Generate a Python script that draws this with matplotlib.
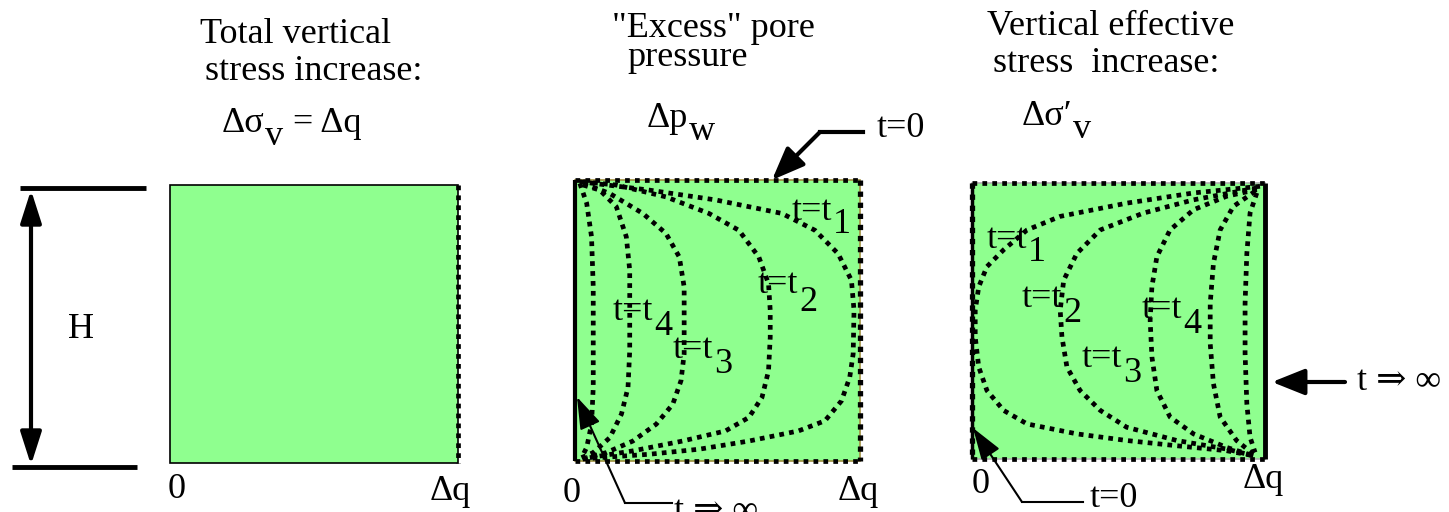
import matplotlib
matplotlib.use("Agg")
import matplotlib.pyplot as plt
from matplotlib.patches import Rectangle

plt.rcParams['font.family'] = ['Liberation Serif', 'DejaVu Serif']

W, H = 1449, 512
GREEN = '#8fff8f'
FS = 26
DOT = (0, (1, 1.1))

# isochrones: x is fraction of dq, z is fraction of depth H
# excess pore pressure panel
PW_T1_X = [0.017, 0.261, 0.494, 0.726, 0.842, 0.923, 0.970, 0.979, 0.976, 0.964,
           0.935, 0.877, 0.784, 0.610, 0.436, 0.261, 0.087, 0.017]
PW_T1_Z = [0.006, 0.036, 0.071, 0.119, 0.179, 0.262, 0.357, 0.464, 0.619, 0.702,
           0.786, 0.857, 0.893, 0.929, 0.958, 0.976, 0.988, 0.994]
PW_T2_X = [0.029, 0.145, 0.319, 0.470, 0.575, 0.645, 0.679, 0.685, 0.685, 0.679,
           0.656, 0.610, 0.528, 0.377, 0.203, 0.052]
PW_T2_Z = [0.006, 0.018, 0.060, 0.119, 0.179, 0.274, 0.369, 0.464, 0.560, 0.679,
           0.774, 0.845, 0.893, 0.929, 0.964, 0.988]
PW_T3_X = [0.029, 0.122, 0.238, 0.319, 0.366, 0.383, 0.383, 0.383, 0.372, 0.343,
           0.285, 0.203, 0.110, 0.041]
PW_T3_Z = [0.012, 0.048, 0.119, 0.190, 0.274, 0.381, 0.500, 0.619, 0.714, 0.798,
           0.869, 0.929, 0.970, 0.988]
PW_T4_X = [0.029, 0.087, 0.145, 0.180, 0.192, 0.192, 0.192, 0.186, 0.163, 0.122,
           0.064, 0.023]
PW_T4_Z = [0.018, 0.036, 0.095, 0.202, 0.321, 0.464, 0.607, 0.738, 0.833, 0.917,
           0.970, 0.988]
PW_T5_X = [0.017, 0.041, 0.058, 0.064, 0.064, 0.064, 0.058, 0.041, 0.023]
PW_T5_Z = [0.012, 0.083, 0.202, 0.381, 0.560, 0.738, 0.869, 0.952, 0.988]

# vertical effective stress panel
SE_T1_X = [0.983, 0.756, 0.528, 0.301, 0.188, 0.108, 0.051, 0.023, 0.011, 0.011,
           0.023, 0.051, 0.108, 0.188, 0.358, 0.528, 0.699, 0.869, 0.960]
SE_T1_Z = [0.012, 0.036, 0.073, 0.121, 0.170, 0.242, 0.303, 0.376, 0.461, 0.558,
           0.667, 0.752, 0.824, 0.873, 0.909, 0.933, 0.952, 0.970, 0.988]
SE_T2_X = [0.972, 0.756, 0.585, 0.438, 0.358, 0.313, 0.301, 0.307, 0.324, 0.369,
           0.438, 0.528, 0.699, 0.869, 0.960]
SE_T2_Z = [0.018, 0.061, 0.109, 0.170, 0.255, 0.352, 0.461, 0.558, 0.667, 0.752,
           0.824, 0.885, 0.933, 0.964, 0.988]
SE_T3_X = [0.972, 0.869, 0.756, 0.676, 0.631, 0.614, 0.608, 0.614, 0.631, 0.676,
           0.756, 0.869, 0.960]
SE_T3_Z = [0.024, 0.048, 0.097, 0.170, 0.267, 0.376, 0.497, 0.630, 0.752, 0.848,
           0.909, 0.958, 0.988]
SE_T4_X = [0.966, 0.892, 0.847, 0.824, 0.813, 0.813, 0.824, 0.847, 0.903, 0.960]
SE_T4_Z = [0.030, 0.085, 0.170, 0.291, 0.436, 0.582, 0.727, 0.848, 0.933, 0.982]
SE_T5_X = [0.972, 0.949, 0.938, 0.932, 0.932, 0.938, 0.949, 0.966]
SE_T5_Z = [0.036, 0.109, 0.255, 0.436, 0.618, 0.800, 0.921, 0.976]

PW_CURVES = [(PW_T1_X, PW_T1_Z), (PW_T2_X, PW_T2_Z), (PW_T3_X, PW_T3_Z),
             (PW_T4_X, PW_T4_Z), (PW_T5_X, PW_T5_Z)]
SE_CURVES = [(SE_T1_X, SE_T1_Z), (SE_T2_X, SE_T2_Z), (SE_T3_X, SE_T3_Z),
             (SE_T4_X, SE_T4_Z), (SE_T5_X, SE_T5_Z)]

fig = plt.figure(figsize=(W / 100, H / 100), dpi=100)
fig.patch.set_facecolor('white')

# full-figure axes in pixel units for the text and arrows
ax = fig.add_axes([0, 0, 1, 1], zorder=3)
ax.set_xlim(0, W)
ax.set_ylim(H, 0)
ax.axis('off')
ax.patch.set_visible(False)


def box_axes(x0, x1, y0, y1, edge):
  bx = fig.add_axes([x0 / W, 1 - y1 / H, (x1 - x0) / W, (y1 - y0) / H], zorder=1)
  bx.set_xlim(0, 1)
  bx.set_ylim(1, 0)
  bx.axis('off')
  bx.add_patch(Rectangle((0, 0), 1, 1, facecolor=GREEN, edgecolor=edge,
                         lw=1.2, clip_on=False))
  return bx


def dotted(bx, xs, zs, lw=3.4):
  bx.plot(xs, zs, color='k', lw=lw, ls=DOT, dash_capstyle='butt',
          solid_capstyle='butt', clip_on=False)


def solid(bx, xs, zs, lw=3):
  bx.plot(xs, zs, color='k', lw=lw, solid_capstyle='butt', clip_on=False)


def sub_text(x, y, main, sub, drop=15, tail=None, fs=FS):
  t = ax.text(x, y, main, fontsize=fs, ha='left', va='baseline')
  s = ax.annotate(sub, xy=(1, 0), xycoords=t, xytext=(0.5, -drop * 0.72),
                  textcoords='offset points', fontsize=fs, ha='left', va='bottom')
  if tail is not None:
    ax.annotate(tail, xy=(1, 0), xycoords=s, xytext=(0, drop * 0.72),
                textcoords='offset points', fontsize=fs, ha='left', va='bottom')


def arrow(start, tip, lw=3, scale=40, hl=0.5, hw=0.2):
  ax.annotate('', xy=tip, xytext=start,
              arrowprops=dict(arrowstyle='-|>,head_length=%g,head_width=%g' % (hl, hw),
                              lw=lw, color='k', mutation_scale=scale,
                              shrinkA=0, shrinkB=0))


# ---- panel 1: total vertical stress
b1 = box_axes(170, 458, 185, 463, 'k')
dotted(b1, [1, 1], [0, 1])

ax.text(200, 43, 'Total vertical', fontsize=FS, va='baseline')
ax.text(205, 80, 'stress increase:', fontsize=FS, va='baseline')
sub_text(222, 132, '\u0394\u03c3', 'v', drop=13, tail=' = \u0394q')

ax.plot([20, 146], [188, 188], color='k', lw=3.5, solid_capstyle='butt')
ax.plot([12, 137], [467, 467], color='k', lw=3.5, solid_capstyle='butt')
ax.annotate('', xy=(31, 190), xytext=(31, 465),
            arrowprops=dict(arrowstyle='<|-|>,head_length=0.5,head_width=0.16',
                            lw=3, color='k', mutation_scale=40,
                            shrinkA=0, shrinkB=0))
ax.text(68, 338, 'H', fontsize=FS, va='baseline')
ax.text(168, 498, '0', fontsize=FS, va='baseline')
ax.text(430, 500, '\u0394q', fontsize=FS, va='baseline')

# ---- panel 2: excess pore pressure
b2 = box_axes(575, 860, 180, 461, '#a09040')
solid(b2, [0, 0], [0, 1], lw=3)
dotted(b2, [0, 1], [0, 0])
dotted(b2, [0, 1], [1, 1])
dotted(b2, [1, 1], [0, 1], lw=3.8)
for xs, zs in PW_CURVES:
  dotted(b2, xs, zs)

ax.text(612, 37, '"Excess" pore', fontsize=FS, va='baseline')
ax.text(627, 66, 'pressure', fontsize=FS, va='baseline')
sub_text(647, 127, '\u0394p', 'w', drop=13)
ax.text(877, 137, 't=0', fontsize=FS, va='baseline')
ax.plot([863, 820], [132, 132], color='k', lw=3)
arrow((820, 132), (772, 180))

sub_text(792, 220, 't=t', '1', drop=13)
sub_text(758, 293, 't=t', '2', drop=18)
sub_text(613, 320, 't=t', '4', drop=15)
sub_text(673, 358, 't=t', '3', drop=15)

ax.text(563, 502, '0', fontsize=FS, va='baseline')
ax.text(838, 500, '\u0394q', fontsize=FS, va='baseline')
ax.text(674, 520, 't \u21d2 \u221e', fontsize=FS, va='baseline')
ax.plot([672, 625], [503, 503], color='k', lw=1.5)
arrow((625, 503), (577, 397), lw=1.5, scale=22, hl=0.9, hw=0.3)

# ---- panel 3: vertical effective stress
b3 = box_axes(972, 1265, 183, 459, '#b0b0b0')
solid(b3, [0, 0], [0, 1], lw=2.5)
dotted(b3, [0, 0], [0, 1], lw=3.8)
solid(b3, [1, 1], [0, 1], lw=3.5)
dotted(b3, [0, 1], [0, 0])
dotted(b3, [0, 1], [1, 1])
for xs, zs in SE_CURVES:
  dotted(b3, xs, zs)

ax.text(987, 35, 'Vertical effective', fontsize=FS, va='baseline')
ax.text(993, 72, 'stress  increase:', fontsize=FS, va='baseline')
sub_text(1022, 125, '\u0394\u03c3\u2032', 'v', drop=13)

sub_text(987, 248, 't=t', '1', drop=13)
sub_text(1022, 307, 't=t', '2', drop=15)
sub_text(1082, 367, 't=t', '3', drop=15)
sub_text(1142, 318, 't=t', '4', drop=15)

ax.text(1357, 390, 't \u21d2 \u221e', fontsize=FS, va='baseline')
arrow((1345, 382), (1272, 382))
ax.text(972, 493, '0', fontsize=FS, va='baseline')
ax.text(1243, 488, '\u0394q', fontsize=FS, va='baseline')
ax.text(1090, 507, 't=0', fontsize=FS, va='baseline')
ax.plot([1083, 1022], [502, 502], color='k', lw=1.5)
arrow((1022, 502), (973, 428), lw=1.5, scale=22, hl=0.9, hw=0.3)

fig.savefig('out.png', dpi=100, facecolor='white')
